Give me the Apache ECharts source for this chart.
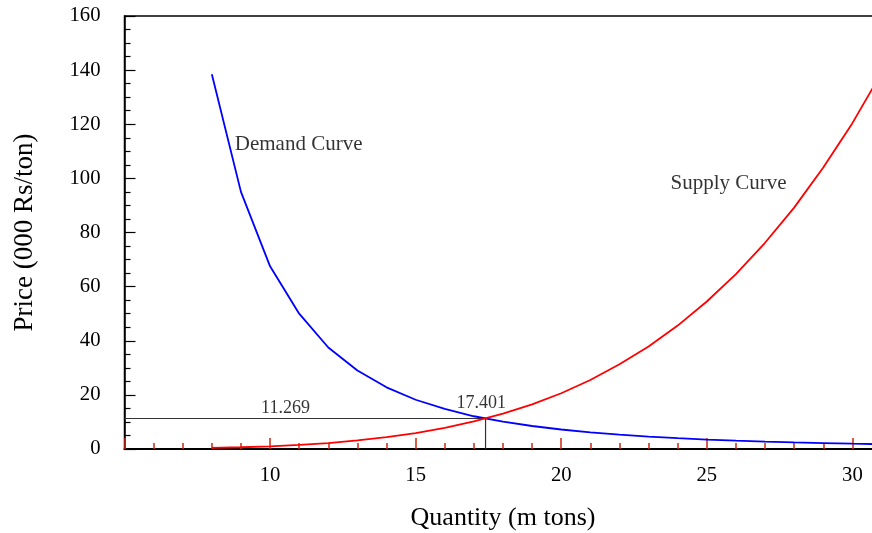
<!DOCTYPE html>
<html>
<head>
<meta charset="utf-8">
<script src="https://cdn.jsdelivr.net/npm/echarts@6/dist/echarts.min.js"></script>
<style>
  html, body { margin: 0; padding: 0; background: #fff; overflow: hidden; }
  #chart { width: 892px; height: 533px; }
</style>
</head>
<body>
<div id="chart"></div>
<script>
// ---- Data ----
const quantity = [8, 9, 10, 11, 12, 13, 14, 15, 16, 17, 18, 19, 20, 21, 22, 23, 24, 25, 26, 27, 28, 29, 30, 31];
const demandPrice = [138.5, 95, 67.5, 50, 37.5, 29, 22.8, 18.2, 14.8, 12.1, 10.1, 8.5, 7.2, 6.15, 5.3, 4.6, 4.0, 3.5, 3.1, 2.75, 2.45, 2.2, 1.95, 1.75];
const supplyPrice = [0.38, 0.64, 1.0, 1.5, 2.2, 3.2, 4.4, 5.9, 7.8, 10.2, 13.1, 16.5, 20.6, 25.5, 31.3, 37.9, 45.6, 54.5, 64.6, 76.2, 89.2, 104, 120.4, 139];
const equilibriumQuantity = 17.401;
const equilibriumPrice = 11.269;
const xTicks = [10, 15, 20, 25, 30];
const yTicks = [0, 20, 40, 60, 80, 100, 120, 140, 160];
const curveNames = ['Demand Curve', 'Supply Curve'];

// ---- Annotation placement (data coordinates) ----
const annotations = [
  { text: curveNames[0], at: [10.98, 112.4], size: 21 },
  { text: curveNames[1], at: [25.75, 98.1], size: 21 },
  { text: equilibriumPrice.toFixed(3), at: [10.53, 15.0], size: 18 },
  { text: equilibriumQuantity.toFixed(3), at: [17.25, 16.8], size: 18 }
];

const X_MIN = 5, X_MAX = 31, Y_MIN = 0, Y_MAX = 160;
const FONT = "'Liberation Serif', 'Times New Roman', serif";
const TICK_RED = '#cc2a10';

const chart = echarts.init(document.getElementById('chart'), null, { renderer: 'canvas' });

const option = {
  animation: false,
  backgroundColor: '#ffffff',
  textStyle: { fontFamily: FONT },
  grid: {
    left: 124.5, top: 16, width: 757, height: 433,
    show: true, borderColor: '#000', borderWidth: 1.5,
    containLabel: false, outerBoundsMode: 'none'
  },
  xAxis: {
    type: 'value', min: X_MIN, max: X_MAX, interval: 5,
    name: 'Quantity (m tons)', nameLocation: 'middle', nameGap: 56,
    nameTextStyle: { fontFamily: FONT, fontSize: 26, color: '#000' },
    axisLine: { show: true, onZero: false, lineStyle: { color: '#000', width: 2 } },
    axisTick: { show: true, inside: true, length: 11, lineStyle: { color: TICK_RED, width: 1.5 } },
    minorTick: { show: true, splitNumber: 5, length: 6, lineStyle: { color: TICK_RED, width: 1.5 } },
    splitLine: { show: false },
    minorSplitLine: { show: false },
    axisLabel: {
      fontFamily: FONT, fontSize: 20.7, color: '#000', margin: 16,
      formatter: v => xTicks.includes(v) ? String(v) : ''
    }
  },
  yAxis: {
    type: 'value', min: Y_MIN, max: Y_MAX, interval: 20,
    name: 'Price (000 Rs/ton)', nameLocation: 'middle', nameGap: 86,
    nameTextStyle: { fontFamily: FONT, fontSize: 27, color: '#000' },
    axisLine: { show: true, onZero: false, lineStyle: { color: '#000', width: 1.5 } },
    axisTick: { show: true, inside: true, length: 11, lineStyle: { color: '#000', width: 1.2 } },
    minorTick: { show: true, splitNumber: 4, length: 6, lineStyle: { color: '#000', width: 1.2 } },
    splitLine: { show: false },
    minorSplitLine: { show: false },
    axisLabel: {
      fontFamily: FONT, fontSize: 20.7, color: '#000', margin: 24,
      padding: [4, 0, 0, 0],
      formatter: v => yTicks.includes(v) ? String(v) : ''
    }
  },
  series: [
    {
      name: curveNames[0], type: 'line', symbol: 'none', smooth: false,
      data: quantity.map((q, i) => [q, demandPrice[i]]),
      lineStyle: { color: '#0000ff', width: 1.8 }, z: 3
    },
    {
      name: curveNames[1], type: 'line', symbol: 'none', smooth: false,
      data: quantity.map((q, i) => [q, supplyPrice[i]]),
      lineStyle: { color: '#ff0000', width: 1.8 }, z: 3
    },
    {
      name: 'equilibrium', type: 'line', symbol: 'none',
      data: [[X_MIN, equilibriumPrice], [equilibriumQuantity, equilibriumPrice], [equilibriumQuantity, Y_MIN]],
      lineStyle: { color: '#333', width: 1.2 }, z: 2
    },
    {
      name: 'labels', type: 'scatter', symbolSize: 0, silent: true,
      data: annotations.map(a => ({
        value: a.at,
        label: {
          show: true, position: 'inside', formatter: a.text,
          fontFamily: FONT, fontSize: a.size, color: '#000',
          textBorderWidth: 0, textBorderColor: 'transparent',
          align: 'center', verticalAlign: 'middle'
        }
      })),
      z: 4
    }
  ]
};

chart.setOption(option);
</script>
</body>
</html>
